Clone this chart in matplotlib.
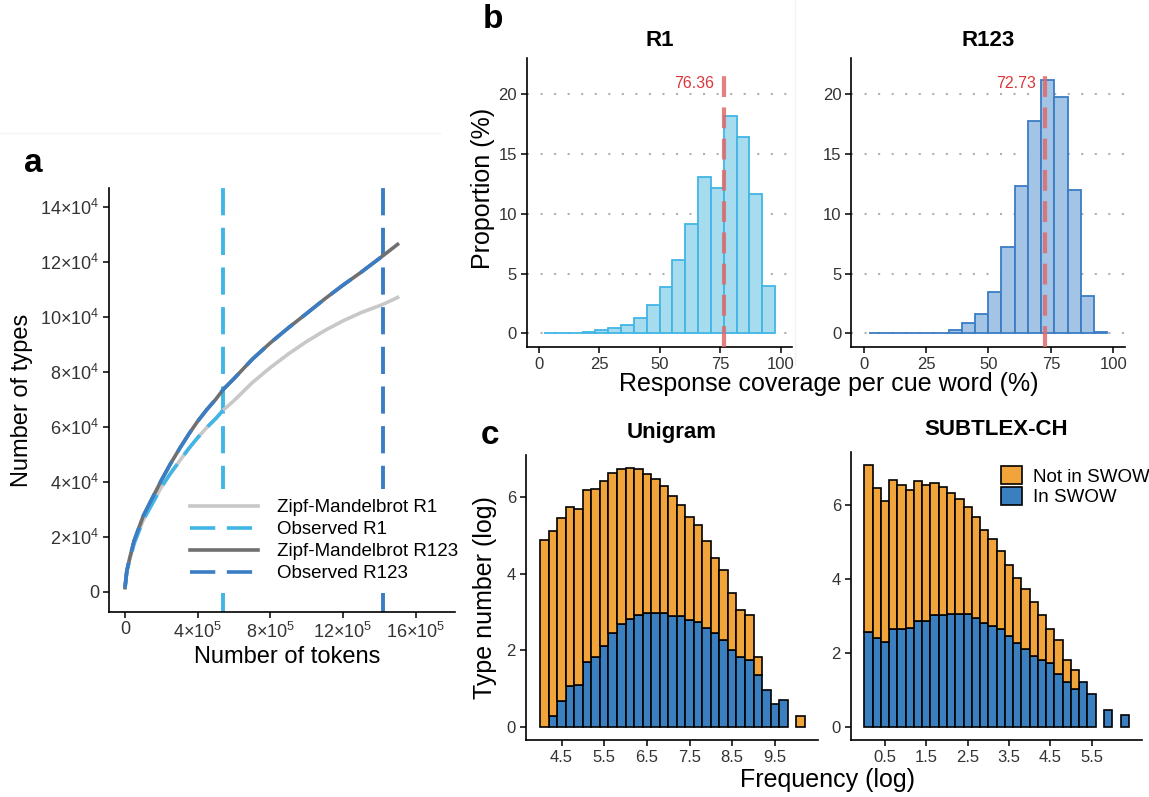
import numpy as np
import matplotlib
matplotlib.use('Agg')
import matplotlib.pyplot as plt
from matplotlib.patches import Patch
from matplotlib.lines import Line2D

plt.rcParams['font.family'] = ['Liberation Sans', 'DejaVu Sans']
plt.rcParams['mathtext.fontset'] = 'custom'
plt.rcParams['mathtext.rm'] = 'Liberation Sans'
plt.rcParams['mathtext.it'] = 'Liberation Sans:italic'
plt.rcParams['mathtext.bf'] = 'Liberation Sans:bold'

# ---- panel a: vocabulary growth (types vs tokens)
tokens = [0, 0.1e5, 0.25e5, 0.5e5, 1e5, 1.5e5, 2e5, 2.5e5, 3e5, 3.5e5, 4e5, 4.5e5, 5e5, 5.4e5,
          6e5, 7e5, 8e5, 9e5, 10e5, 11e5, 12e5, 13e5, 14e5, 14.2e5, 15e5]
zm_r1 = [0.15e4, 0.75e4, 1.15e4, 1.75e4, 2.6e4, 3.2e4, 3.8e4, 4.3e4, 4.75e4, 5.2e4, 5.6e4, 5.97e4,
         6.3e4, 6.6e4, 6.95e4, 7.6e4, 8.15e4, 8.65e4, 9.1e4, 9.5e4, 9.85e4, 10.15e4, 10.4e4,
         10.45e4, 10.7e4]
zm_r123 = [0.15e4, 0.75e4, 1.2e4, 1.85e4, 2.75e4, 3.4e4, 4.05e4, 4.65e4, 5.2e4, 5.72e4, 6.2e4,
           6.62e4, 7.0e4, 7.35e4, 7.75e4, 8.45e4, 9.05e4, 9.6e4, 10.12e4, 10.65e4, 11.15e4,
           11.62e4, 12.12e4, 12.22e4, 12.63e4]
n_obs_r1 = 5.4e5
n_obs_r123 = 14.2e5

# ---- panel b: response coverage per cue word (%)
cov_bins = [4.85, 10.15, 15.45, 20.75, 26.05, 31.35, 36.65, 41.95, 47.25, 52.55,
            57.85, 63.15, 68.45, 73.75, 79.05, 84.35, 89.65, 94.95]
prop_r1 = [0.02, 0.03, 0.05, 0.12, 0.25, 0.42, 0.7, 1.26, 2.37, 3.85,
           6.14, 9.15, 13.11, 12.13, 18.16, 16.46, 11.66, 4.0]
prop_r123 = [0.01, 0.01, 0.02, 0.04, 0.05, 0.06, 0.28, 0.9, 1.62, 3.43,
             7.2, 12.33, 17.8, 21.17, 19.75, 12.0, 3.15, 0.15]
median_r1 = 76.36
median_r123 = 72.73

# ---- panel c: frequency distributions (log)
uni_freq = [4.1, 4.3, 4.5, 4.7, 4.9, 5.1, 5.3, 5.5, 5.7, 5.9, 6.1, 6.3, 6.5, 6.7, 6.9, 7.1,
            7.3, 7.5, 7.7, 7.9, 8.1, 8.3, 8.5, 8.7, 8.9, 9.1, 9.3, 9.5, 9.7, 9.9, 10.1]
uni_total = [4.90, 5.13, 5.46, 5.74, 5.70, 6.19, 6.22, 6.42, 6.63, 6.75, 6.77, 6.74, 6.61, 6.47,
             6.30, 6.04, 5.80, 5.49, 5.28, 4.87, 4.42, 4.11, 3.49, 3.06, 2.92, 1.84, 0.97,
             0.60, 0.71, 0, 0.29]
uni_in = [0, 0.29, 0.69, 1.08, 1.11, 1.69, 1.82, 2.12, 2.45, 2.68, 2.82, 2.94, 2.97, 2.99,
          2.97, 2.91, 2.89, 2.80, 2.74, 2.58, 2.45, 2.28, 2.00, 1.83, 1.76, 1.37, 0.97,
          0.60, 0.71, 0, 0]
sub_freq = [0.1, 0.3, 0.5, 0.7, 0.9, 1.1, 1.3, 1.5, 1.7, 1.9, 2.1, 2.3, 2.5, 2.7, 2.9, 3.1,
            3.3, 3.5, 3.7, 3.9, 4.1, 4.3, 4.5, 4.7, 4.9, 5.1, 5.3, 5.5, 5.7, 5.9, 6.1, 6.3]
sub_total = [7.08, 6.46, 6.12, 6.68, 6.54, 6.41, 6.67, 6.54, 6.60, 6.49, 6.34, 6.18, 5.96, 5.69,
             5.34, 5.09, 4.75, 4.38, 4.04, 3.74, 3.38, 3.03, 2.66, 2.35, 1.81, 1.54, 1.22,
             0.90, 0, 0.47, 0, 0.31]
sub_in = [2.57, 2.40, 2.30, 2.64, 2.66, 2.68, 2.86, 2.88, 3.02, 3.04, 3.05, 3.05, 3.05, 2.94,
          2.81, 2.73, 2.66, 2.46, 2.28, 2.10, 1.92, 1.81, 1.72, 1.44, 1.22, 1.04, 1.22,
          0.90, 0, 0.47, 0, 0.31]

W, H = 1149, 797
fig = plt.figure(figsize=(W / 100, H / 100), dpi=100)


def box(l, t, r, b):
    return [l / W, 1 - b / H, (r - l) / W, (b - t) / H]


def classic(ax, size=12):
    for s in ['top', 'right']:
        ax.spines[s].set_visible(False)
    for s in ['left', 'bottom']:
        ax.spines[s].set_linewidth(1.2)
    ax.tick_params(width=1.1, length=4, labelsize=size, labelcolor='#333333', pad=3)


c_r1 = '#41b6e6'
c_r123 = '#3a7dc4'
c_orange = '#f0a43a'
c_blue = '#3a7fc0'
red = '#e06a6a'

# faint seams of the composed figure
fig.add_artist(Line2D([0, 440 / W], [1 - 133 / H, 1 - 133 / H], color='#f3f3f3', lw=1))
fig.add_artist(Line2D([795 / W, 795 / W], [1, 1 - 365 / H], color='#f3f3f3', lw=1))

# ---------------- a
axa = fig.add_axes(box(109.3, 188, 455, 611.7))
classic(axa, 13)
dash = (7, 3.2)
axa.plot(tokens, zm_r1, color='#c8c8c8', lw=2.6, zorder=2, solid_joinstyle='round')
axa.plot(tokens, zm_r123, color='#707070', lw=2.6, zorder=2, solid_joinstyle='round')
k1 = tokens.index(n_obs_r1) + 1
k2 = tokens.index(n_obs_r123) + 1
axa.plot(tokens[:k1], zm_r1[:k1], color=c_r1, lw=2.6, dashes=dash, zorder=3)
axa.plot(tokens[:k2], zm_r123[:k2], color=c_r123, lw=2.6, dashes=dash, zorder=3)
axa.axvline(n_obs_r1, color=c_r1, lw=2.8, dashes=dash, zorder=1)
axa.axvline(n_obs_r123, color=c_r123, lw=2.8, dashes=dash, zorder=1)
axa.set_xlim(-0.864e5, 18.16e5)
axa.set_ylim(-0.727e4, 14.68e4)
axa.set_xticks([0, 4e5, 8e5, 12e5, 16e5])
axa.set_xticklabels(['0', r'$4{\times}10^5$', r'$8{\times}10^5$', r'$12{\times}10^5$', r'$16{\times}10^5$'])
axa.set_yticks(np.arange(0, 14.1e4, 2e4))
axa.set_yticklabels(['0'] + [r'$%d{\times}10^4$' % v for v in range(2, 15, 2)])
handles = [Line2D([], [], color='#c8c8c8', lw=2.6),
           Line2D([], [], color=c_r1, lw=2.6, dashes=dash),
           Line2D([], [], color='#707070', lw=2.6),
           Line2D([], [], color=c_r123, lw=2.6, dashes=dash)]
labels = ['Zipf-Mandelbrot R1', 'Observed R1', 'Zipf-Mandelbrot R123', 'Observed R123']
leg = axa.legend(handles, labels, loc='lower left', bbox_to_anchor=(0.205, 0.045),
                 fontsize=13.5, handlelength=3.6, handletextpad=1.0, labelspacing=0.26,
                 frameon=True, framealpha=1, facecolor='white', edgecolor='none',
                 borderpad=0.55, borderaxespad=0)
leg.set_zorder(5)

# ---------------- b
for (l, r), vals, med, fill, edge, title in [
        ((526.7, 792), prop_r1, median_r1, '#a6dcee', c_r1, 'R1'),
        ((851, 1125), prop_r123, median_r123, '#a3c4e4', c_r123, 'R123')]:
    ax = fig.add_axes(box(l, 58, r, 347))
    classic(ax)
    for yv in [0, 5, 10, 15, 20]:
        ax.axhline(yv, color='#b0b0b0', lw=1.5, ls=(0, (1, 5.5)), zorder=0)
    ax.bar(cov_bins, vals, width=5.3, color=fill, edgecolor=edge, lw=1.3, zorder=2)
    ax.plot([med, med], [-1.14, 22.2], color=red, lw=3, alpha=0.85, dashes=(5, 2.5), zorder=3)
    ax.annotate('%.2f' % med, xy=(med, 20.9), xytext=(-7, 0), textcoords='offset points',
                ha='right', va='center', color='#d9383a', fontsize=11.5)
    ax.set_xlim(-5, 104.6)
    ax.set_ylim(-1.14, 23.04)
    ax.set_xticks([0, 25, 50, 75, 100])
    ax.set_yticks([0, 5, 10, 15, 20])
    ax.set_title(title, fontsize=16, fontweight='bold', pad=9)

# ---------------- c
for (l, t, r), xs, tot, inn, xl, yl, title, ticks in [
        ((525.7, 455, 818), uni_freq, uni_total, uni_in, (3.66, 10.51), (-0.34, 7.11), 'Unigram',
         [4.5, 5.5, 6.5, 7.5, 8.5, 9.5]),
        ((850.7, 451.7, 1142), sub_freq, sub_total, sub_in, (-0.33, 6.72), (-0.354, 7.45), 'SUBTLEX-CH',
         [0.5, 1.5, 2.5, 3.5, 4.5, 5.5])]:
    ax = fig.add_axes(box(l, t, r, 740))
    classic(ax)
    xs = np.array(xs)
    tot = np.array(tot)
    inn = np.array(inn)
    m_in = inn > 0
    ax.bar(xs[m_in], inn[m_in], width=0.2, color=c_blue, edgecolor='black', lw=1.2, zorder=2)
    m_out = (tot - inn) > 0
    ax.bar(xs[m_out], (tot - inn)[m_out], bottom=inn[m_out], width=0.2, color=c_orange,
           edgecolor='black', lw=1.2, zorder=2)
    ax.set_xlim(*xl)
    ax.set_ylim(*yl)
    ax.set_xticks(ticks)
    ax.set_xticklabels([str(v) for v in ticks])
    ax.set_yticks([0, 2, 4, 6])
    ax.set_title(title, fontsize=16, fontweight='bold', pad=12)
    if title == 'SUBTLEX-CH':
        ax.legend([Patch(facecolor=c_orange, edgecolor='black', lw=1.2),
                   Patch(facecolor=c_blue, edgecolor='black', lw=1.2)],
                  ['Not in SWOW', 'In SWOW'], loc='upper left', bbox_to_anchor=(0.49, 0.975),
                  fontsize=13.5, frameon=False, handlelength=1.1, handleheight=1.1,
                  handletextpad=0.6, labelspacing=0.05, borderaxespad=0)

# ---------------- texts
def ftext(x, y, s, **kw):
    fig.text(x / W, 1 - y / H, s, **kw)

ftext(33, 163, 'a', fontsize=24, fontweight='bold', ha='center', va='center')
ftext(493, 20, 'b', fontsize=24, fontweight='bold', ha='center', va='center')
ftext(490, 435, 'c', fontsize=24, fontweight='bold', ha='center', va='center')
ftext(287, 657, 'Number of tokens', fontsize=17, ha='center', va='center')
ftext(22, 400, 'Number of types', fontsize=17, ha='center', va='center', rotation=90)
ftext(483, 188, 'Proportion (%)', fontsize=18, ha='center', va='center', rotation=90)
ftext(829, 384, 'Response coverage per cue word (%)', fontsize=18, ha='center', va='center')
ftext(485, 598, 'Type number (log)', fontsize=18, ha='center', va='center', rotation=90)
ftext(828, 780, 'Frequency (log)', fontsize=18, ha='center', va='center')

fig.savefig('out.png', dpi=100)
